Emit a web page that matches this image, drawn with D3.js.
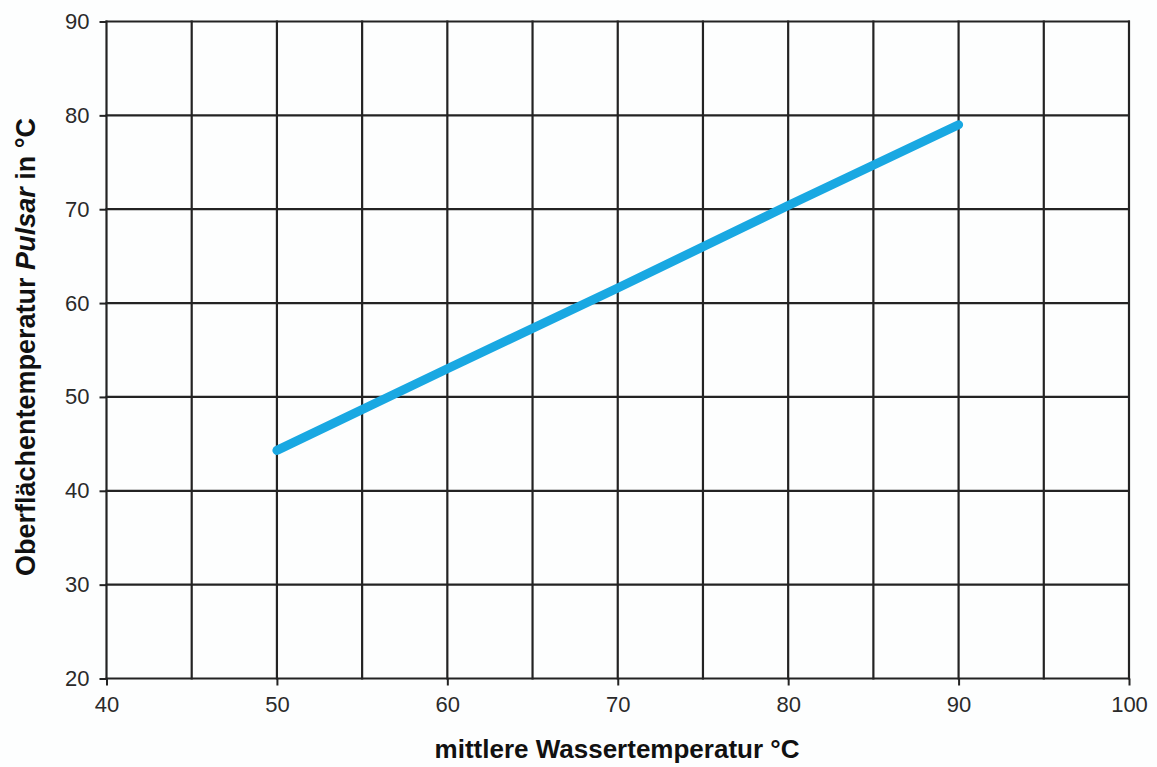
<!DOCTYPE html>
<html lang="de">
  <head>
    <meta charset="utf-8">
    <title>Oberflächentemperatur Pulsar</title>
    <style>
      body {margin: 0; background: #fdfefe;}
      svg {display: block;}
      .grid line {stroke: #232323; stroke-width: 2.2px;}
      .axis text {font-family: "Liberation Sans", Arial, sans-serif; font-size: 22px; fill: #2a2a2a;}
      .axis line {stroke: #232323; stroke-width: 2px;}
      .axis path {display: none;}
      .title {font-family: "Liberation Sans", Arial, sans-serif; font-size: 26px; font-weight: bold; fill: #111;}
    </style>
    <script src="https://d3js.org/d3.v7.min.js"></script>
  </head>
  <body>
    <script type="text/javascript">
      // data
      var waterTemp = [50, 60, 70, 80, 90];
      var surfaceTemp = [44.3, 53.0, 61.6, 70.4, 79.0];
      var xTicks = [40, 50, 60, 70, 80, 90, 100];
      var yTicks = [20, 30, 40, 50, 60, 70, 80, 90];
      var xGrid = [40, 45, 50, 55, 60, 65, 70, 75, 80, 85, 90, 95, 100];

      var width = 1157, height = 767;
      var plotLeft = 106.5, plotRight = 1129, plotTop = 21.5, plotBottom = 678.5;

      var x = d3.scaleLinear().domain([40, 100]).range([plotLeft, plotRight]);
      var y = d3.scaleLinear().domain([20, 90]).range([plotBottom, plotTop]);

      var svg = d3.select("body").append("svg")
        .attr("width", width)
        .attr("height", height);

      // grid
      var grid = svg.append("g").attr("class", "grid");
      grid.selectAll("line.v")
        .data(xGrid)
        .enter().append("line")
        .attr("class", "v")
        .attr("x1", function(d) { return x(d); })
        .attr("x2", function(d) { return x(d); })
        .attr("y1", plotTop - 1)
        .attr("y2", plotBottom + 1);
      grid.selectAll("line.h")
        .data(yTicks)
        .enter().append("line")
        .attr("class", "h")
        .attr("x1", plotLeft - 1)
        .attr("x2", plotRight + 1)
        .attr("y1", function(d) { return y(d); })
        .attr("y2", function(d) { return y(d); });

      // axes
      svg.append("g")
        .attr("class", "axis")
        .attr("transform", "translate(0," + plotBottom + ")")
        .call(d3.axisBottom(x).tickValues(xTicks).tickSize(7).tickPadding(11));

      svg.append("g")
        .attr("class", "axis")
        .attr("transform", "translate(" + plotLeft + ",0)")
        .call(d3.axisLeft(y).tickValues(yTicks).tickSize(7).tickPadding(10));

      // curve
      var line = d3.line()
        .x(function(d) { return x(d[0]); })
        .y(function(d) { return y(d[1]); });

      svg.append("path")
        .datum(d3.zip(waterTemp, surfaceTemp))
        .attr("d", line)
        .attr("fill", "none")
        .attr("stroke", "#19a8e2")
        .attr("stroke-width", 9)
        .attr("stroke-linecap", "round");

      // axis titles
      svg.append("text")
        .attr("class", "title")
        .attr("x", 617)
        .attr("y", 758)
        .attr("text-anchor", "middle")
        .text("mittlere Wassertemperatur °C");

      var yt = svg.append("text")
        .attr("class", "title")
        .attr("font-size", "27px")
        .style("font-size", "27px")
        .attr("transform", "translate(35,347) rotate(-90)")
        .attr("text-anchor", "middle");
      yt.append("tspan").text("Oberflächentemperatur ");
      yt.append("tspan").attr("font-style", "italic").text("Pulsar");
      yt.append("tspan").text(" in °C");
    </script>
  </body>
</html>
